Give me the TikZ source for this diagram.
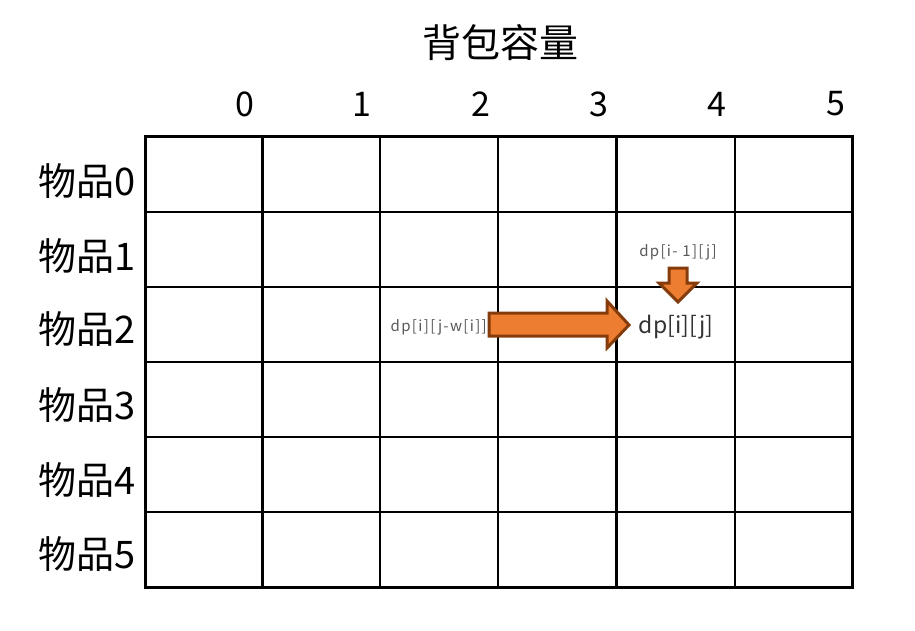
\documentclass[tikz,border=0pt]{standalone}
\usepackage{fontspec}
\setmainfont{Noto Sans CJK SC}
\definecolor{arrowfill}{HTML}{ED7D31}
\definecolor{arrowline}{HTML}{843C0C}
\definecolor{txtgray}{HTML}{595959}
\begin{document}
\begin{tikzpicture}[x=1pt,y=-1pt,
  title/.style={font=\fontsize{39}{39}\selectfont, inner sep=0pt},
  colnum/.style={font=\fontsize{34}{34}\selectfont, inner sep=0pt},
  rowlab/.style={font=\fontsize{38}{38}\selectfont, inner sep=0pt, anchor=east},
  small/.style={font=\fontsize{15}{15}\selectfont\addfontfeatures{LetterSpace=9}, text=txtgray, inner sep=0pt},
  big/.style={font=\fontsize{23}{23}\selectfont, text=black!80, inner sep=0pt},
  blockarrow/.style={fill=arrowfill, draw=arrowline, line width=3pt, line join=miter}]
\useasboundingbox (0,0) rectangle (915,631);
% grid lines
\draw[line width=1.2pt] (145,287) -- (852,287);
\draw[line width=1.2pt] (380,137) -- (380,587);
\draw[line width=2pt] (498,137) -- (498,587);
\draw[line width=2pt] (735,137) -- (735,587);
\draw[line width=2pt] (145,512) -- (852,512);
\draw[line width=2.6pt] (145,212) -- (852,212);
\draw[line width=2.6pt] (145,362) -- (852,362);
\draw[line width=2.6pt] (145,437) -- (852,437);
\draw[line width=3pt] (262,137) -- (262,587);
\draw[line width=3pt] (616,137) -- (616,587);
\draw[line width=3pt] (145,137) rectangle (852,587);
% title and headers
\node[title] (t) at (500,43) {背包容量};
\node[colnum] (c0) at (245,104) {0};
\node[colnum] (c1) at (362,104) {1};
\node[colnum] (c2) at (481,104) {2};
\node[colnum] (c3) at (599,104) {3};
\node[colnum] (c4) at (717,104) {4};
\node[colnum] (c5) at (836,104) {5};
\node[rowlab] (r0) at (136,181) {物品0};
\node[rowlab] (r1) at (136,256) {物品1};
\node[rowlab] (r2) at (136,329) {物品2};
\node[rowlab] (r3) at (136,405) {物品3};
\node[rowlab] (r4) at (136,480) {物品4};
\node[rowlab] (r5) at (136,554) {物品5};
% arrows
\draw[blockarrow] (489,313) -- (607,313) -- (607,301) -- (629,325) -- (607,348) -- (607,336) -- (489,336) -- cycle;
\draw[blockarrow] (669,268) -- (687,268) -- (687,283) -- (697,283) -- (678,302) -- (659,283) -- (669,283) -- cycle;
% labels
\node[small, anchor=east] (a) at (487,327) {dp[i][j-w[i]]};
\node[small] (b) at (678,252) {dp[i- 1][j]};
\node[big] (c) at (676,327) {dp[i][j]};
\end{tikzpicture}
\end{document}
